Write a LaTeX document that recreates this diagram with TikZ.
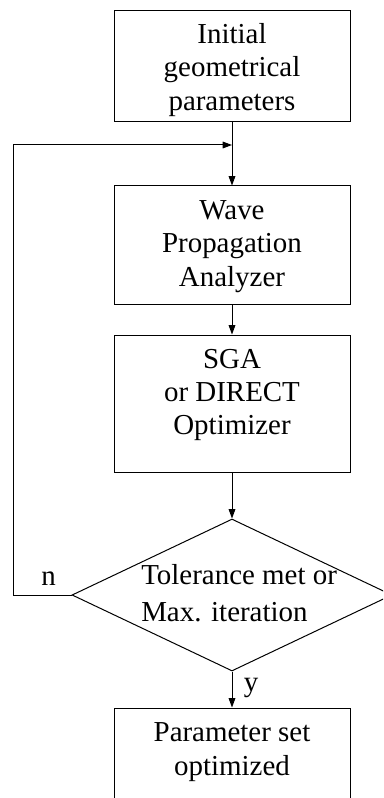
\documentclass[tikz,border=0pt]{standalone}
\usepackage{fontspec}
\setmainfont{Liberation Serif}
\usetikzlibrary{shapes.geometric,arrows.meta}
\begin{document}
\begin{tikzpicture}[x=0.75pt,y=-0.75pt,
  ln/.style={line width=0.75pt},
  box/.style={draw,ln,rectangle,minimum width=177pt,inner sep=0pt},
  txt/.style={align=center,font=\fontsize{21.7}{24.9}\selectfont,inner sep=0pt},
  arr/.style={ln,-{Triangle[length=7pt,width=5pt]}}]
\useasboundingbox (0,0) rectangle (383,798);
\clip (0,0) rectangle (383,798);
% boxes
\node[box,minimum height=83.25pt] (b1) at (232,66.5) {};
\node[txt] (t1) at (232,70) {Initial\\geometrical\\parameters};
\node[box,minimum height=88.5pt] (b2) at (232,245) {};
\node[txt] (t2) at (232,246.5) {Wave\\Propagation\\Analyzer};
\node[box,minimum height=102.75pt] (b3) at (232,403.5) {};
\node[txt] (t3) at (232,395) {SGA\\or DIRECT\\Optimizer};
\node[diamond,draw,ln,minimum width=240pt,minimum height=114pt,inner sep=0pt] (d) at (232,595) {};
\node[txt,align=left,font=\fontsize{21.7}{27.75}\selectfont,anchor=west] (dt) at (141,593.5) {Tolerance met or\\Max. iteration};
\node[box,minimum height=114pt] (b4) at (232,784) {};
\node[txt] (t4) at (232,752) {Parameter set\\optimized};
% labels
\node[txt,anchor=base] (ln) at (48.5,585) {n};
\node[txt,anchor=base] (ly) at (251,691) {y};
% connectors
\coordinate (lf) at (13,145);
\coordinate (j) at (232,145);
\draw[ln] (b1.south) -- (j);
\draw[arr] (j) -- (b2.north);
\draw[arr] (d.west) -| (lf) -- (j);
\draw[arr] (b2.south) -- (b3.north);
\draw[arr] (b3.south) -- (d.north);
\draw[arr] (d.south) -- (b4.north);
\end{tikzpicture}
\end{document}
